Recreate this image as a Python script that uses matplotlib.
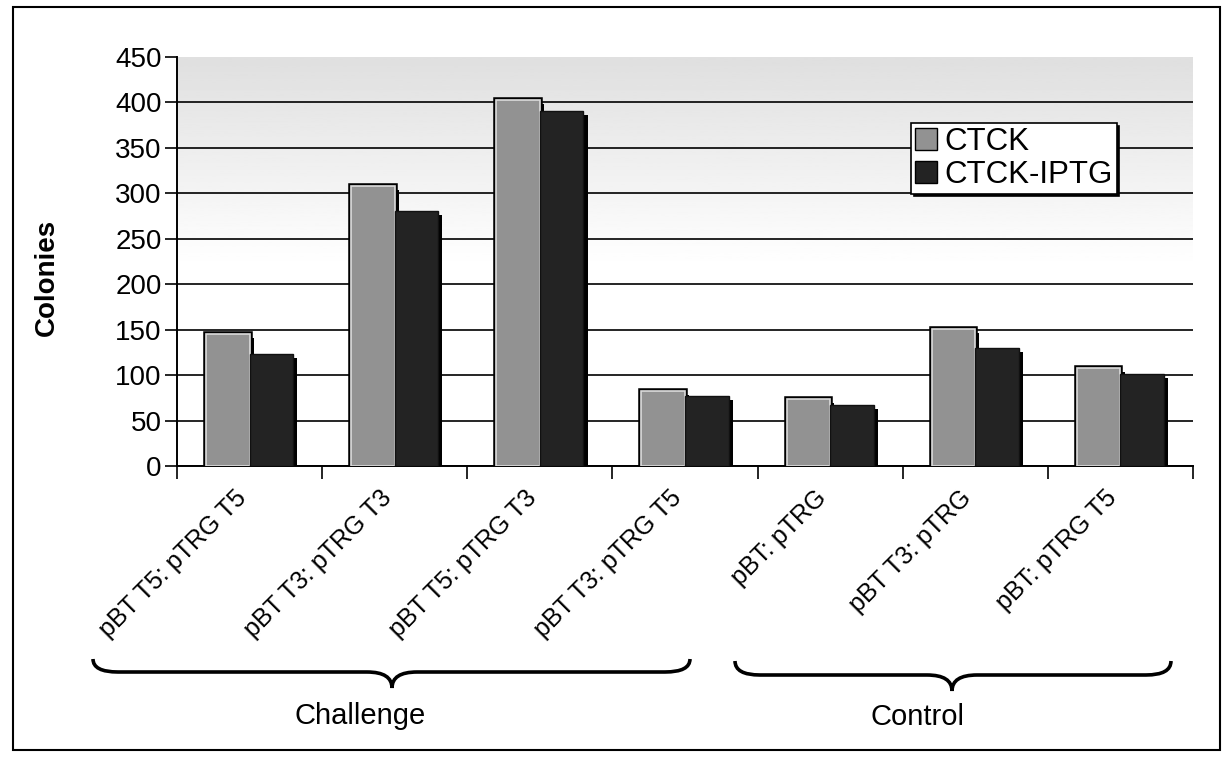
import numpy as np
import matplotlib
matplotlib.use("Agg")
import matplotlib.pyplot as plt
import matplotlib.patheffects as pe
from matplotlib.patches import Rectangle, PathPatch, Patch
from matplotlib.path import Path
from matplotlib.transforms import blended_transform_factory

plt.rcParams["font.family"] = ["Liberation Sans", "DejaVu Sans"]

categories = [
    "pBT T5: pTRG T5",
    "pBT T3: pTRG T3",
    "pBT T5: pTRG T3",
    "pBT T3: pTRG T5",
    "pBT: pTRG",
    "pBT T3: pTRG",
    "pBT: pTRG T5",
]
ctck = [145, 308, 403, 83, 74, 151, 108]
ctck_iptg = [123, 281, 391, 77, 67, 130, 101]
series_names = ["CTCK", "CTCK-IPTG"]
groups = ["Challenge", "Control"]
yticks = list(range(0, 451, 50))

W, H = 1222, 757
fig = plt.figure(figsize=(W / 100, H / 100), dpi=100)
ax = fig.add_axes([177 / W, 1 - 466 / H, 1016 / W, 409 / H])

# stippled backdrop, darker at the top
grad = np.clip(np.linspace(0.875, 1.12, 256), 0, 1)[:, None]
ax.imshow(grad, extent=[0, 1, 0, 1], transform=ax.transAxes, aspect="auto",
          cmap="gray", vmin=0, vmax=1, zorder=0, origin="upper")

x = np.arange(len(categories))
bw = 0.3
shadow = pe.SimplePatchShadow(offset=(3, -3), shadow_rgbFace="black", alpha=1.0)
ax.bar(x - bw / 2, ctck, bw, color="#929292", edgecolor="#dcdcdc", linewidth=1.2,
       zorder=3, path_effects=[shadow, pe.Stroke(linewidth=4, foreground="black"), pe.Normal()])
ax.bar(x + bw / 2, ctck_iptg, bw, color="#232323", edgecolor="#111111", linewidth=1,
       zorder=3, path_effects=[shadow, pe.Normal()])

ax.set_xlim(-0.5, len(categories) - 0.5)
ax.set_ylim(0, 450)
ax.set_yticks(yticks)
ax.tick_params(axis="y", direction="out", length=9, width=1.2, labelsize=20, pad=2)
ax.set_xticks(np.arange(-0.5, len(categories), 1.0))
ax.set_xticklabels([])
ax.tick_params(axis="x", direction="out", length=9, width=1.2)
ax.grid(axis="y", color="black", linewidth=1.2, zorder=1)
ax.set_axisbelow(True)
ax.get_ygridlines()[-1].set_visible(False)
for s in ["top", "right"]:
    ax.spines[s].set_visible(False)
for s in ["left", "bottom"]:
    ax.spines[s].set_linewidth(1.4)

ax.set_ylabel("Colonies", fontsize=20, fontweight="bold")
ax.yaxis.set_label_coords(-0.115, 0.46)

# rotated category labels
blend = blended_transform_factory(ax.transData, fig.transFigure)
for i, lab in enumerate(categories):
    ax.text(i - 0.05, 1 - 494 / H, lab, transform=blend, rotation=45,
            rotation_mode="anchor", ha="right", va="center", fontsize=18)

# group braces
def brace(x0, x1, xt, ytop, yline, ytip):
    r = 25
    verts = [(x0, ytop), (x0, yline), (x0 + r, yline), (xt - r, yline),
             (xt, yline), (xt, ytip), (xt, yline), (xt + r, yline),
             (x1 - r, yline), (x1, yline), (x1, ytop)]
    codes = [Path.MOVETO, Path.CURVE3, Path.CURVE3, Path.LINETO,
             Path.CURVE3, Path.CURVE3, Path.CURVE3, Path.CURVE3,
             Path.LINETO, Path.CURVE3, Path.CURVE3]
    verts = [(vx / W, 1 - vy / H) for vx, vy in verts]
    fig.add_artist(PathPatch(Path(verts, codes), transform=fig.transFigure,
                             fill=False, lw=2.6, edgecolor="black"))

brace(93, 690, 392, 659, 672, 688)
brace(735, 1171, 952, 661, 675, 691)
fig.text(360 / W, 1 - 716 / H, groups[0], ha="center", va="center", fontsize=21)
fig.text(918 / W, 1 - 717 / H, groups[1], ha="center", va="center", fontsize=21)

handles = [Patch(facecolor="#929292", edgecolor="black"),
           Patch(facecolor="#232323", edgecolor="black")]
leg = fig.legend(handles, series_names, loc="upper left",
                 bbox_to_anchor=(911 / W, 1 - 123 / H), fontsize=22.5,
                 frameon=True, fancybox=False, shadow={"color": "black", "alpha": 1},
                 handlelength=0.7, handleheight=0.7, handletextpad=0.25,
                 labelspacing=0.1, borderpad=0.12, borderaxespad=0)
leg.get_frame().set_edgecolor("black")
leg.get_frame().set_linewidth(1.2)

fig.add_artist(Rectangle((13 / W, 1 - 750 / H), (1220 - 13) / W, (750 - 7) / H,
                         transform=fig.transFigure, fill=False, lw=1.5,
                         edgecolor="black"))

fig.savefig("out.png", dpi=100)
